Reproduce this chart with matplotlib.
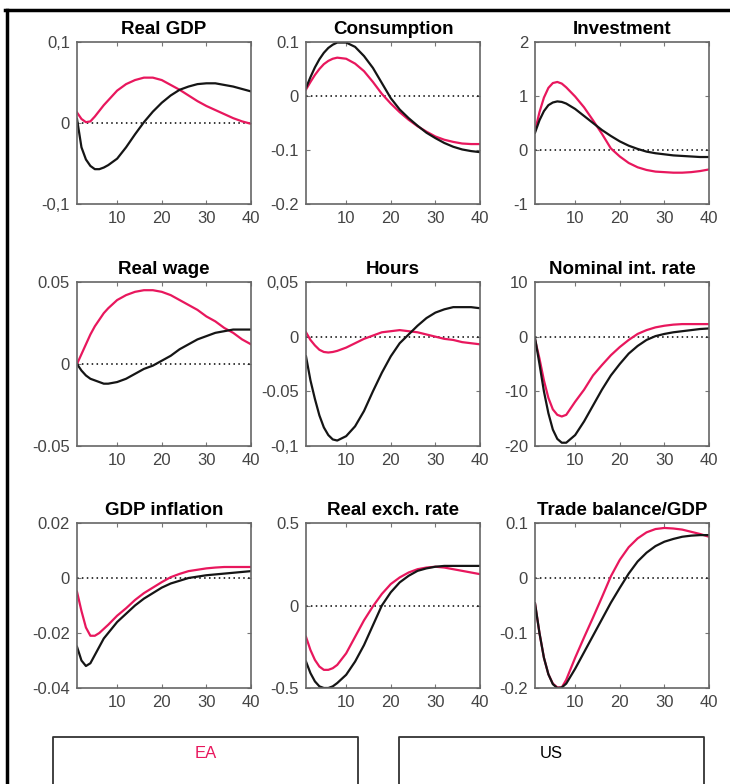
import matplotlib
matplotlib.use('Agg')
import matplotlib.pyplot as plt
from matplotlib.lines import Line2D

plt.rcParams['font.family'] = ['Liberation Sans', 'DejaVu Sans']

q = [1, 2, 3, 4, 5, 6, 7, 8, 10, 12, 14, 16, 18, 20, 22, 24, 26, 28, 30, 32, 34, 36, 38, 40]

gdp_ea = [0.013, 0.005, 0.001, 0.002, 0.008, 0.015, 0.022, 0.028, 0.040, 0.048, 0.053, 0.056, 0.056, 0.053,
          0.047, 0.041, 0.034, 0.027, 0.021, 0.016, 0.011, 0.006, 0.002, -0.001]
gdp_us = [0.005, -0.030, -0.045, -0.053, -0.057, -0.057, -0.055, -0.052, -0.044, -0.030, -0.014, 0.001, 0.014,
          0.025, 0.034, 0.041, 0.045, 0.048, 0.049, 0.049, 0.047, 0.045, 0.042, 0.039]

cons_ea = [0.012, 0.026, 0.039, 0.050, 0.059, 0.065, 0.069, 0.071, 0.069, 0.060, 0.046, 0.026, 0.004, -0.014,
           -0.030, -0.044, -0.056, -0.066, -0.075, -0.081, -0.085, -0.088, -0.089, -0.089]
cons_us = [0.015, 0.035, 0.053, 0.068, 0.080, 0.089, 0.095, 0.099, 0.099, 0.091, 0.074, 0.052, 0.024, -0.004,
           -0.025, -0.041, -0.055, -0.068, -0.078, -0.087, -0.094, -0.099, -0.102, -0.104]

inv_ea = [0.35, 0.70, 0.97, 1.15, 1.24, 1.26, 1.23, 1.16, 0.99, 0.79, 0.55, 0.30, 0.03, -0.12, -0.24, -0.32,
          -0.37, -0.40, -0.41, -0.42, -0.42, -0.41, -0.39, -0.36]
inv_us = [0.32, 0.55, 0.72, 0.83, 0.88, 0.90, 0.89, 0.86, 0.76, 0.63, 0.50, 0.37, 0.26, 0.16, 0.08, 0.02,
          -0.03, -0.06, -0.08, -0.10, -0.11, -0.12, -0.13, -0.13]

wage_ea = [0.000, 0.006, 0.012, 0.018, 0.023, 0.027, 0.031, 0.034, 0.039, 0.042, 0.044, 0.045, 0.045, 0.044,
           0.042, 0.039, 0.036, 0.033, 0.029, 0.026, 0.022, 0.019, 0.015, 0.012]
wage_us = [0.000, -0.004, -0.007, -0.009, -0.010, -0.011, -0.012, -0.012, -0.011, -0.009, -0.006, -0.003,
           -0.001, 0.002, 0.005, 0.009, 0.012, 0.015, 0.017, 0.019, 0.020, 0.021, 0.021, 0.021]

hours_ea = [0.004, -0.003, -0.008, -0.012, -0.014, -0.0145, -0.014, -0.013, -0.010, -0.006, -0.002, 0.001,
            0.004, 0.005, 0.006, 0.005, 0.004, 0.002, 0.000, -0.002, -0.003, -0.005, -0.006, -0.007]
hours_us = [-0.018, -0.040, -0.057, -0.072, -0.083, -0.090, -0.094, -0.095, -0.091, -0.082, -0.068, -0.050,
            -0.033, -0.018, -0.006, 0.002, 0.010, 0.017, 0.022, 0.025, 0.027, 0.027, 0.027, 0.026]

rate_ea = [-0.5, -4.0, -8.0, -11.2, -13.3, -14.3, -14.6, -14.3, -11.9, -9.7, -7.1, -5.2, -3.4, -1.9, -0.6,
           0.5, 1.2, 1.7, 2.0, 2.2, 2.3, 2.3, 2.3, 2.3]
rate_us = [-0.2, -5.0, -10.0, -14.0, -17.0, -18.7, -19.4, -19.4, -18.0, -15.5, -12.6, -9.7, -7.1, -5.0, -3.1,
           -1.7, -0.6, 0.1, 0.5, 0.8, 1.0, 1.2, 1.4, 1.5]

infl_ea = [-0.005, -0.012, -0.018, -0.021, -0.021, -0.020, -0.0185, -0.017, -0.0137, -0.011, -0.008, -0.0055,
           -0.0035, -0.0015, 0.0003, 0.0015, 0.0025, 0.003, 0.0035, 0.0038, 0.004, 0.004, 0.004, 0.004]
infl_us = [-0.025, -0.030, -0.032, -0.031, -0.028, -0.025, -0.022, -0.020, -0.016, -0.013, -0.010, -0.0075,
           -0.0055, -0.0035, -0.002, -0.001, 0.000, 0.0005, 0.001, 0.0013, 0.0016, 0.0019, 0.0022, 0.0025]

rer_ea = [-0.19, -0.27, -0.33, -0.37, -0.39, -0.39, -0.38, -0.36, -0.29, -0.19, -0.09, -0.005, 0.07, 0.13,
          0.17, 0.20, 0.22, 0.23, 0.235, 0.23, 0.22, 0.21, 0.20, 0.19]
rer_us = [-0.34, -0.41, -0.46, -0.49, -0.50, -0.50, -0.49, -0.47, -0.42, -0.34, -0.24, -0.12, 0.00, 0.08,
          0.14, 0.18, 0.21, 0.225, 0.235, 0.24, 0.24, 0.24, 0.24, 0.24]

tb_ea = [-0.046, -0.100, -0.145, -0.175, -0.192, -0.199, -0.199, -0.185, -0.145, -0.108, -0.072, -0.035,
         0.003, 0.033, 0.056, 0.072, 0.083, 0.089, 0.091, 0.090, 0.088, 0.084, 0.080, 0.075]
tb_us = [-0.046, -0.100, -0.145, -0.175, -0.193, -0.200, -0.199, -0.192, -0.165, -0.135, -0.105, -0.075,
         -0.045, -0.018, 0.008, 0.030, 0.046, 0.058, 0.066, 0.071, 0.075, 0.077, 0.078, 0.078]

titles = ['Real GDP', 'Consumption', 'Investment', 'Real wage', 'Hours', 'Nominal int. rate',
          'GDP inflation', 'Real exch. rate', 'Trade balance/GDP']
ea_series = [gdp_ea, cons_ea, inv_ea, wage_ea, hours_ea, rate_ea, infl_ea, rer_ea, tb_ea]
us_series = [gdp_us, cons_us, inv_us, wage_us, hours_us, rate_us, infl_us, rer_us, tb_us]
ylims = [(-0.1, 0.1), (-0.2, 0.1), (-1, 2), (-0.05, 0.05), (-0.1, 0.05), (-20, 10),
         (-0.04, 0.02), (-0.5, 0.5), (-0.2, 0.1)]
yticks = [[-0.1, 0, 0.1], [-0.2, -0.1, 0, 0.1], [-1, 0, 1, 2], [-0.05, 0, 0.05], [-0.1, -0.05, 0, 0.05],
          [-20, -10, 0, 10], [-0.04, -0.02, 0, 0.02], [-0.5, 0, 0.5], [-0.2, -0.1, 0, 0.1]]
ylabels = [['-0,1', '0', '0,1'], ['-0.2', '-0.1', '0', '0.1'], ['-1', '0', '1', '2'],
           ['-0.05', '0', '0.05'], ['-0,1', '-0.05', '0', '0,05'], ['-20', '-10', '0', '10'],
           ['-0.04', '-0.02', '0', '0.02'], ['-0.5', '0', '0.5'], ['-0.2', '-0.1', '0', '0.1']]

RED = '#e8175d'
W, H = 730, 784
fig = plt.figure(figsize=(W / 100, H / 100), dpi=100)

col_left = [77, 306, 535]
row_top = [42, 282, 523]
row_h = [162, 164, 165]
ax_w = 174

for i in range(9):
    r, c = divmod(i, 3)
    ax = fig.add_axes([col_left[c] / W, 1 - (row_top[r] + row_h[r]) / H, ax_w / W, row_h[r] / H])
    ax.plot([1, 40], [0, 0], color='black', ls=(0, (1, 2.2)), lw=1.1)
    ax.plot(q, ea_series[i], color=RED, lw=1.6, solid_joinstyle='round')
    ax.plot(q, us_series[i], color='#151515', lw=1.6, solid_joinstyle='round')
    ax.set_xlim(1, 40)
    ax.set_ylim(*ylims[i])
    ax.set_xticks([10, 20, 30, 40])
    ax.set_yticks(yticks[i])
    ax.set_yticklabels(ylabels[i])
    ax.tick_params(direction='in', length=3, width=0.8, color='#777777', labelsize=12,
                   labelcolor='#444444', top=True, right=True, pad=5)
    for s in ax.spines.values():
        s.set_color('#666666')
        s.set_linewidth(1.2)
    ax.set_title(titles[i], fontsize=13.5, fontweight='bold', pad=6)

# outer frame lines (top and left)
fig.add_artist(Line2D([5 / W, 730 / W], [1 - 9.5 / H, 1 - 9.5 / H], color='black', lw=2.5,
                      transform=fig.transFigure))
fig.add_artist(Line2D([6.5 / W, 6.5 / W], [0, 1 - 9.5 / H], color='black', lw=2.5,
                      transform=fig.transFigure))

# legend boxes at the bottom, cut by the figure edge
for x0, x1, label, col in [(53, 358, 'EA', RED), (399, 704, 'US', 'black')]:
    fig.add_artist(Line2D([x0 / W, x0 / W, x1 / W, x1 / W], [0, 1 - 737 / H, 1 - 737 / H, 0],
                          color='#333333', lw=1.3, transform=fig.transFigure))
    fig.text((x0 + x1) / 2 / W, 1 - 753 / H, label, color=col, fontsize=12,
             ha='center', va='center')

fig.savefig('out.png', dpi=100, facecolor='white')
